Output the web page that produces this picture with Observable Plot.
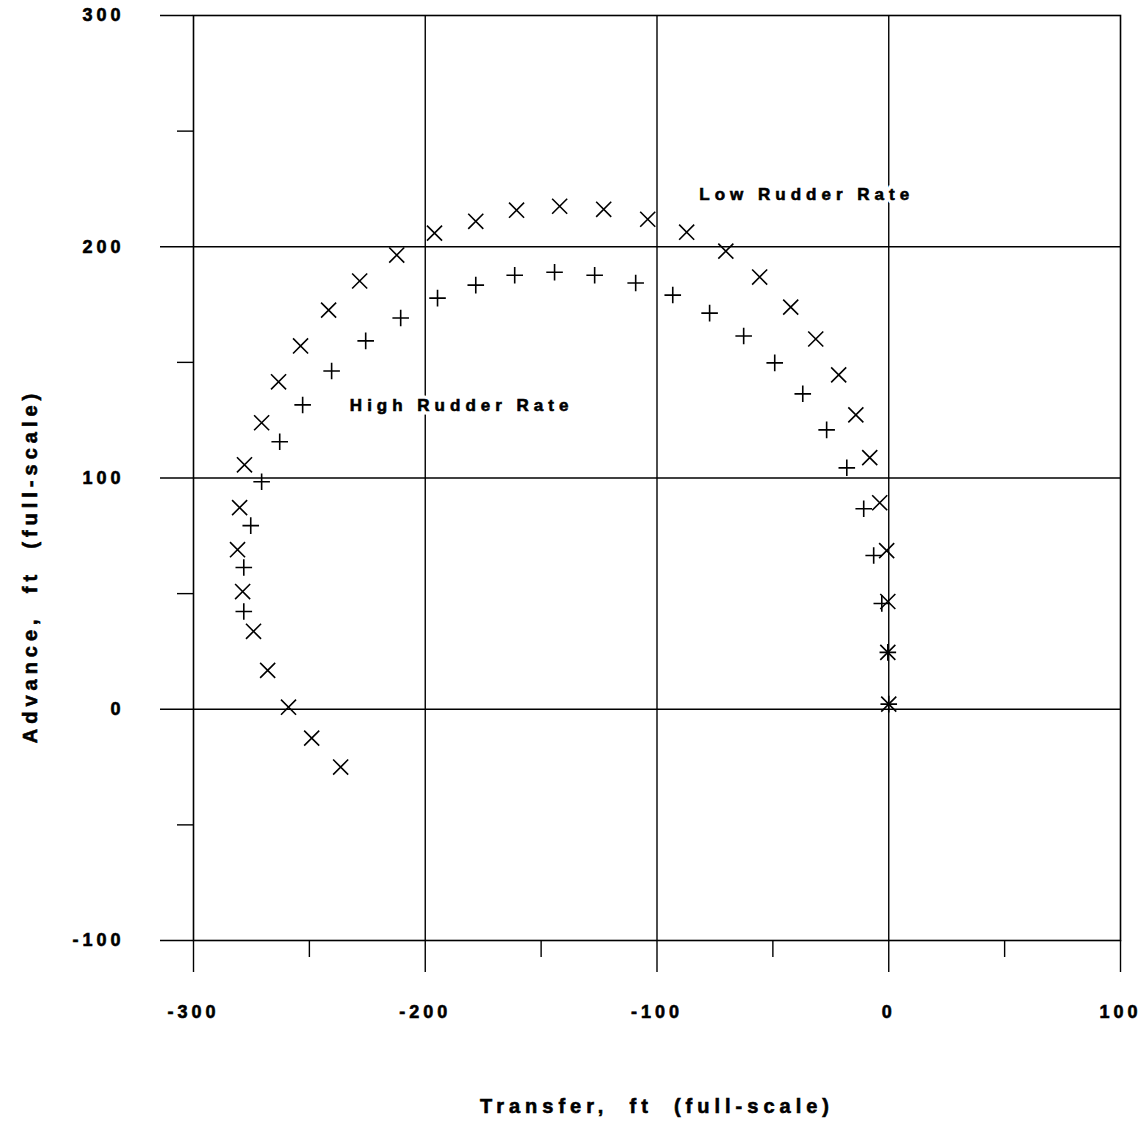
<!DOCTYPE html>
<html>
<head>
<meta charset="utf-8">
<script src="https://cdn.jsdelivr.net/npm/d3@7"></script>
<script src="https://cdn.jsdelivr.net/npm/@observablehq/plot@0.6"></script>
<style>
  html, body { margin: 0; padding: 0; background: #fff; }
  #chart svg text { font-family: "Liberation Sans", Arial, sans-serif; font-weight: bold; letter-spacing: 4px; fill: #000; stroke: #000; stroke-width: 0.6px; }
  #chart svg .title text { letter-spacing: 5px; }
  #chart svg .series text { letter-spacing: 5px; }
  #chart svg .halo text { letter-spacing: 5px; fill: #fff; stroke: #fff; stroke-width: 7px; }
</style>
</head>
<body>
<div id="chart"></div>
<script>
// Low Rudder Rate (× markers)
const lowTransfer = [0, -0.4, -0.4, -0.9, -3.9, -8.2, -14.2, -21.6, -31.5, -42.3, -55.7, -70.3, -87.2, -104, -123, -142, -160.6, -178.2, -196, -212.3, -228.3, -241.7, -253.8, -263.3, -270.6, -278, -280.1, -281, -278.8, -274.1, -268, -259, -249, -236.5];
const lowAdvance  = [2.2, 24.6, 46.6, 68.6, 89.3, 108.8, 127.3, 144.6, 160.1, 173.9, 186.9, 198.1, 206.3, 211.9, 216.2, 217.5, 215.8, 211, 205.9, 196.4, 185.2, 172.6, 157.1, 141.6, 123.9, 105.7, 87.2, 69, 50.9, 33.7, 16.8, 0.9, -12.5, -25];

// High Rudder Rate (+ markers)
const highTransfer = [0, -0.4, -3, -6.5, -10.8, -18.1, -26.8, -37.1, -49.2, -62.6, -77.3, -93.2, -109.2, -126.9, -144.2, -161.4, -178.2, -194.7, -210.6, -225.7, -240.4, -252.9, -262.8, -270.6, -275.3, -278.3, -278.3];
const highAdvance  = [2.2, 24.6, 45.7, 66.5, 86.7, 104.4, 120.8, 136.4, 149.8, 161.4, 171.3, 179.1, 184.3, 187.7, 189, 187.7, 183.4, 177.8, 169.2, 159.3, 146.3, 131.6, 115.7, 98.4, 79.4, 61.3, 42.3];

const xMajorTicks = [-300, -200, -100, 0, 100];
const xMinorTicks = [-250, -150, -50, 50];
const yMajorTicks = [-100, 0, 100, 200, 300];
const yMinorTicks = [-50, 50, 150, 250];
const xGrid = [-200, -100, 0];
const yGrid = [0, 100, 200];

const seriesLabels = [
  {x: -35.4, y: 222.7, text: "Low Rudder Rate"},
  {x: -184.3, y: 131.2, text: "High Rudder Rate"}
];
const xTitle = "Transfer,  ft  (full-scale)";
const yTitle = "Advance,  ft  (full-scale)";

const low = lowTransfer.map((x, i) => ({x, y: lowAdvance[i]}));
const high = highTransfer.map((x, i) => ({x, y: highAdvance[i]}));

const chart = Plot.plot({
  width: 1146,
  height: 1124,
  marginLeft: 193,
  marginRight: 26,
  marginTop: 15,
  marginBottom: 184,
  x: {domain: [-300, 100]},
  y: {domain: [-100, 300]},
  marks: [
    Plot.gridX(xGrid, {stroke: "#000", strokeOpacity: 1, strokeWidth: 1.4}),
    Plot.gridY(yGrid, {stroke: "#000", strokeOpacity: 1, strokeWidth: 1.4}),
    Plot.frame({stroke: "#000", strokeWidth: 1.6}),
    Plot.axisX(xMajorTicks, {tickSize: 32, tickPadding: 33, strokeWidth: 1.4, fontSize: 18, tickFormat: d => String(d), label: null}),
    Plot.axisX(xMinorTicks, {tickSize: 17, strokeWidth: 1.4, text: null, label: null}),
    Plot.axisY(yMajorTicks, {tickSize: 33, tickPadding: 36, strokeWidth: 1.4, fontSize: 18, tickFormat: d => String(d), label: null}),
    Plot.axisY(yMinorTicks, {tickSize: 16, strokeWidth: 1.4, text: null, label: null}),
    Plot.text(seriesLabels, {x: "x", y: "y", text: "text", fontSize: 17, className: "halo"}),
    Plot.dot(low, {x: "x", y: "y", symbol: "times", r: 6.9, stroke: "#000", strokeWidth: 1.6}),
    Plot.dot(high, {x: "x", y: "y", symbol: "plus", r: 5.4, stroke: "#000", strokeWidth: 1.6}),
    Plot.text(seriesLabels, {x: "x", y: "y", text: "text", fontSize: 17, className: "series"}),
    Plot.text([xTitle], {frameAnchor: "bottom", textAnchor: "middle", dy: 172, fontSize: 20, className: "title"}),
    Plot.text([yTitle], {frameAnchor: "left", textAnchor: "middle", dx: -163, dy: 88, rotate: -90, fontSize: 20, className: "title"})
  ]
});
document.getElementById("chart").appendChild(chart);
</script>
</body>
</html>
